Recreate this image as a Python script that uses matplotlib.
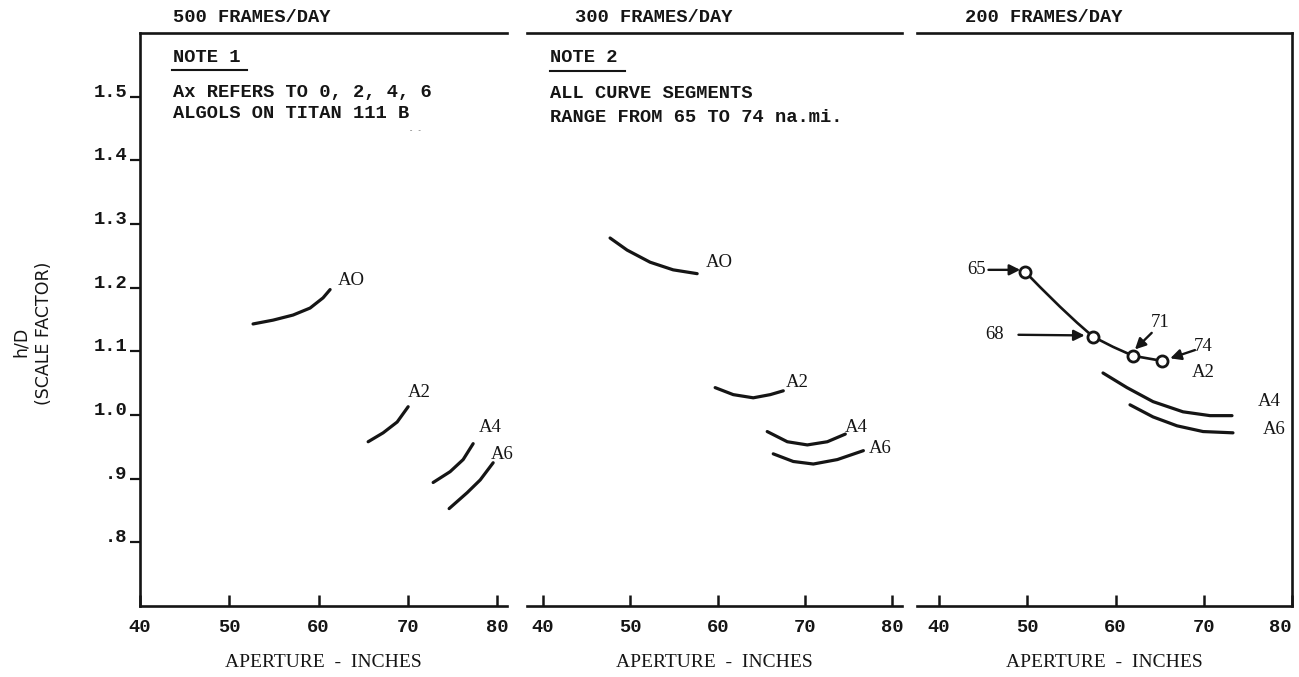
import matplotlib
matplotlib.use("Agg")
import matplotlib.pyplot as plt
from matplotlib.lines import Line2D

# ---------------- data ----------------
panel_titles = ["500 FRAMES/DAY", "300 FRAMES/DAY", "200 FRAMES/DAY"]
x_ticks = [40, 50, 60, 70, 80]
y_ticks = [0.8, 0.9, 1.0, 1.1, 1.2, 1.3, 1.4, 1.5]
y_tick_labels = [".8", ".9", "1.0", "1.1", "1.2", "1.3", "1.4", "1.5"]

# 500 frames/day
p1_A0_x = [52.66, 54.90, 57.14, 59.05, 60.50, 61.29]
p1_A0_y = [1.143, 1.149, 1.157, 1.168, 1.184, 1.197]
p1_A2_x = [65.55, 67.23, 68.80, 70.03]
p1_A2_y = [0.958, 0.972, 0.989, 1.013]
p1_A4_x = [72.83, 74.73, 76.19, 77.31]
p1_A4_y = [0.894, 0.911, 0.930, 0.955]
p1_A6_x = [74.62, 76.64, 78.10, 79.55]
p1_A6_y = [0.853, 0.878, 0.898, 0.925]

# 300 frames/day
p2_A0_x = [47.68, 49.63, 52.26, 54.90, 57.65]
p2_A0_y = [1.278, 1.259, 1.240, 1.228, 1.222]
p2_A2_x = [59.71, 61.78, 64.07, 66.02, 67.51]
p2_A2_y = [1.043, 1.032, 1.027, 1.032, 1.038]
p2_A4_x = [65.67, 67.97, 70.26, 72.55, 74.61]
p2_A4_y = [0.974, 0.958, 0.953, 0.958, 0.970]
p2_A6_x = [66.36, 68.65, 70.95, 73.70, 76.68]
p2_A6_y = [0.939, 0.927, 0.923, 0.930, 0.944]

# 200 frames/day
p3_A2_x = [49.75, 51.44, 53.71, 55.64, 57.45, 59.72, 61.98, 65.27]
p3_A2_y = [1.225, 1.201, 1.170, 1.145, 1.123, 1.107, 1.093, 1.085]
p3_range_labels = ["65", "68", "71", "74"]
p3_range_x = [49.75, 57.45, 61.98, 65.27]
p3_range_y = [1.225, 1.123, 1.093, 1.085]
p3_A4_x = [58.58, 61.30, 64.25, 67.65, 70.71, 73.20]
p3_A4_y = [1.066, 1.043, 1.021, 1.005, 0.999, 0.999]
p3_A6_x = [61.64, 64.25, 66.97, 69.92, 73.31]
p3_A6_y = [1.016, 0.997, 0.983, 0.974, 0.972]

# ---------------- figure ----------------
W, H = 1299, 677
fig = plt.figure(figsize=(W / 100, H / 100), dpi=100)
fig.patch.set_facecolor("white")

MONO = "Liberation Mono"
SERIF = "Liberation Serif"
INK = "#151515"
MW = "bold"


def fx(px):
    return px / W


def fy(py):
    return 1 - py / H


top_px, bot_px = 33, 606
panels_px = [(140, 507, (40, 81.1)), (527, 902, (38.17, 81.1)), (917, 1292, (37.5, 80.0))]
axes = []
for i, (l, r, xl) in enumerate(panels_px):
    ax = fig.add_axes([fx(l), fy(bot_px), (r - l) / W, (bot_px - top_px) / H])
    ax.set_xlim(*xl)
    ax.set_ylim(0.7, 1.6)
    for s in ax.spines.values():
        s.set_linewidth(1.9)
        s.set_color(INK)
    ax.spines["right"].set_visible(i == 2)
    ax.spines["left"].set_visible(i == 0)
    ax.set_xticks(x_ticks)
    ax.set_xticklabels([str(v) for v in x_ticks], fontfamily=MONO, fontsize=13.5, fontweight=MW)
    ax.tick_params(axis="x", direction="in", length=8, width=1.8, pad=9, colors=INK)
    if i == 2:
        ax.get_xticklabels()[-1].set_ha("right")
    if i == 0:
        ax.set_yticks(y_ticks)
        ax.set_yticklabels(y_tick_labels, fontfamily=MONO, fontsize=13.5, fontweight=MW)
        ax.tick_params(axis="y", direction="out", length=7, width=1.6, pad=2, colors=INK)
        plt.setp(ax.get_yticklabels(), va="baseline")
    else:
        ax.set_yticks([])
    ax.set_xlabel("APERTURE  -  INCHES", fontfamily=SERIF, fontsize=14, labelpad=13, color=INK)
    axes.append(ax)

ax1, ax2, ax3 = axes
lw = 2.3
lab = dict(fontfamily=SERIF, fontsize=13.5, color=INK, va="center", ha="left")

# panel 1
for xs, ys in [(p1_A0_x, p1_A0_y), (p1_A2_x, p1_A2_y), (p1_A4_x, p1_A4_y), (p1_A6_x, p1_A6_y)]:
    ax1.plot(xs, ys, color=INK, lw=lw, solid_capstyle="round")
ax1.text(62.1, 1.212, "AO", **lab)
ax1.text(70.0, 1.036, "A2", **lab)
ax1.text(77.9, 0.980, "A4", **lab)
ax1.text(79.3, 0.938, "A6", **lab)

# panel 2
for xs, ys in [(p2_A0_x, p2_A0_y), (p2_A2_x, p2_A2_y), (p2_A4_x, p2_A4_y), (p2_A6_x, p2_A6_y)]:
    ax2.plot(xs, ys, color=INK, lw=lw, solid_capstyle="round")
ax2.text(58.6, 1.240, "AO", **lab)
ax2.text(67.85, 1.051, "A2", **lab)
ax2.text(74.6, 0.981, "A4", **lab)
ax2.text(77.25, 0.948, "A6", **lab)

# panel 3
ax3.plot(p3_A2_x, p3_A2_y, color=INK, lw=1.9)
ax3.plot(p3_range_x, p3_range_y, ls="none", marker="o", ms=8, mfc="white", mec=INK, mew=2.0)
for xs, ys in [(p3_A4_x, p3_A4_y), (p3_A6_x, p3_A6_y)]:
    ax3.plot(xs, ys, color=INK, lw=lw, solid_capstyle="round")
ax3.text(68.7, 1.066, "A2", **lab)
ax3.text(76.1, 1.021, "A4", **lab)
ax3.text(76.7, 0.977, "A6", **lab)

arrow = dict(arrowstyle="-|>", color=INK, lw=1.7, mutation_scale=16, shrinkA=0, shrinkB=0)
ann_text_pos = [(45.3, 1.228), (47.4, 1.126), (64.0, 1.146), (68.9, 1.107)]
ann_tail = [(45.6, 1.228), (49.0, 1.126), (64.1, 1.129), (69.0, 1.102)]
ann_head = [(49.2, 1.228), (56.5, 1.125), (62.2, 1.103), (66.2, 1.089)]
ann_ha = ["right", "right", "left", "left"]
for t, tp, tail, head, ha in zip(p3_range_labels, ann_text_pos, ann_tail, ann_head, ann_ha):
    ax3.annotate("", xy=head, xytext=tail, arrowprops=arrow)
    ax3.text(tp[0], tp[1], t, fontfamily=SERIF, fontsize=13.5, color=INK, ha=ha, va="center")

# titles
for title, xpx in zip(panel_titles, [173, 575, 965]):
    fig.text(fx(xpx), fy(18), title, fontfamily=MONO, fontsize=13.5, fontweight=MW, color=INK,
             ha="left", va="center")

# notes
note_kw = dict(fontfamily=MONO, fontsize=13.5, fontweight=MW, color=INK, ha="left", va="center")
fig.text(fx(173), fy(58), "NOTE 1", **note_kw)
fig.add_artist(Line2D([fx(172), fx(247)], [fy(70), fy(70)], color=INK, lw=1.5))
fig.text(fx(173), fy(93), "Ax REFERS TO 0, 2, 4, 6", **note_kw)
fig.text(fx(173), fy(113), "ALGOLS ON TITAN 111 B", **note_kw)
fig.text(fx(409), fy(131), "- -", fontfamily=MONO, fontsize=5, color="#666666", ha="left", va="center")

fig.text(fx(550), fy(58), "NOTE 2", **note_kw)
fig.add_artist(Line2D([fx(550), fx(625)], [fy(71), fy(71)], color=INK, lw=1.5))
fig.text(fx(550), fy(93), "ALL CURVE SEGMENTS", **note_kw)
fig.text(fx(550), fy(118), "RANGE FROM 65 TO 74 na.mi.", **note_kw)

# y label
fig.text(fx(21), fy(342), "h/D", fontfamily="DejaVu Sans", fontsize=12.5, color=INK,
         rotation=90, ha="center", va="center")
fig.text(fx(44), fy(333), "(SCALE FACTOR)", fontfamily="DejaVu Sans", fontsize=12.5, color=INK,
         rotation=90, ha="center", va="center")

fig.savefig("out.png", dpi=100, facecolor="white")
